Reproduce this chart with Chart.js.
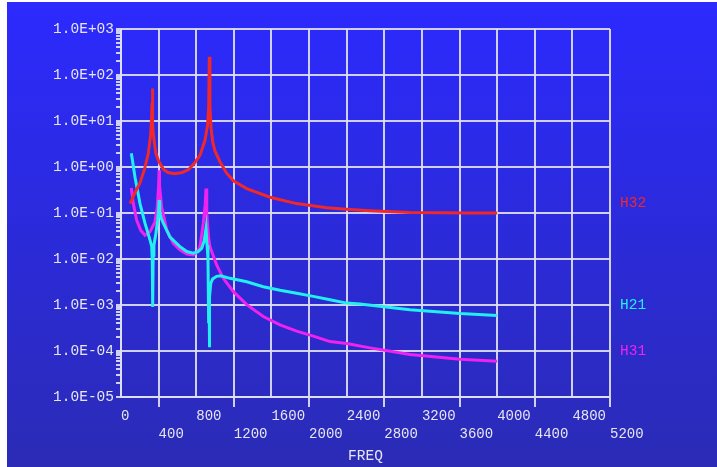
<!DOCTYPE html>
<html><head><meta charset="utf-8">
<script src="https://cdn.jsdelivr.net/npm/chart.js@4.4.0/dist/chart.umd.min.js"></script>
<style>html,body{margin:0;padding:0;background:#fff;overflow:hidden}#wrap{width:717px;height:467px;position:relative}</style>
</head><body><div id="wrap"><canvas id="c" width="717" height="467"></canvas></div>
<script>
// ---- data ----
const seriesNames = ['H32', 'H21', 'H31'];
const seriesColors = ['#f02828', '#22f0f0', '#f022f0'];

const h32Freq = [96, 150, 200, 250, 290, 315, 325, 330, 333, 336, 340, 350, 370, 400, 450, 500, 570, 650, 720, 780, 840, 893, 920, 932, 939, 946, 958, 975, 1000, 1053, 1120, 1195, 1337, 1584, 1868, 2187, 2400, 2648, 3073, 3400, 3700, 4000];
const h32Vals = [0.16, 0.28, 0.44, 0.9, 1.95, 5, 12, 25, 51, 20, 8, 4, 2.0, 1.35, 0.9, 0.76, 0.71, 0.76, 0.88, 1.2, 1.8, 3.8, 8, 20, 250, 20, 7, 3.5, 2.2, 1.3, 0.75, 0.5, 0.34, 0.22, 0.16, 0.13, 0.12, 0.112, 0.102, 0.101, 0.1, 0.1];

const h21Freq = [110, 149, 202, 255, 308, 326, 332, 337, 342, 350, 370, 390, 400, 405, 412, 430, 450, 521, 627, 700, 769, 820, 858, 885, 904, 915, 925, 932, 936, 939, 944, 955, 975, 1017, 1060, 1159, 1337, 1513, 1691, 1868, 2045, 2223, 2400, 2541, 3073, 3605, 4000];
const h21Vals = [2.0, 0.6, 0.16, 0.06, 0.026, 0.019, 0.01, 0.0009, 0.012, 0.02, 0.035, 0.07, 0.12, 0.19, 0.1, 0.075, 0.06, 0.03, 0.0186, 0.0145, 0.0134, 0.0145, 0.017, 0.025, 0.046, 0.02, 0.01, 0.0004, 0.0025, 0.00012, 0.0015, 0.003, 0.0037, 0.0042, 0.0043, 0.0038, 0.0032, 0.0025, 0.0021, 0.0018, 0.00154, 0.0013, 0.0011, 0.00105, 0.00079, 0.00065, 0.00059];

const h31Freq = [110, 131, 166, 210, 255, 308, 361, 386, 400, 405, 410, 432, 486, 556, 627, 700, 769, 820, 840, 875, 895, 904, 912, 930, 946, 1017, 1088, 1195, 1337, 1513, 1691, 1868, 2045, 2223, 2400, 2648, 3073, 3605, 4000];
const h31Vals = [0.35, 0.16, 0.07, 0.042, 0.033, 0.039, 0.064, 0.136, 0.4, 0.85, 0.4, 0.136, 0.043, 0.022, 0.0158, 0.0128, 0.0123, 0.015, 0.0185, 0.06, 0.15, 0.34, 0.1, 0.03, 0.0185, 0.0074, 0.0038, 0.00195, 0.00102, 0.00056, 0.00037, 0.00027, 0.00021, 0.00016, 0.000145, 0.000117, 0.000084, 0.000066, 0.00006];

const xTickValues = [0, 400, 800, 1200, 1600, 2000, 2400, 2800, 3200, 3600, 4000, 4400, 4800, 5200];
const yDecadeLabels = ['1.0E-05', '1.0E-04', '1.0E-03', '1.0E-02', '1.0E-01', '1.0E+00', '1.0E+01', '1.0E+02', '1.0E+03'];
const xTitle = 'FREQ';

// ---- styling ----
const FONT = "'Liberation Mono', 'DejaVu Sans Mono', monospace";
const TEXT = '#e6e6f2';
const GRID = 'rgba(222,222,245,0.92)';

function toPoints(fx, vy) { return fx.map((f, i) => ({ x: f, y: vy[i] })); }
const seriesData = [toPoints(h32Freq, h32Vals), toPoints(h21Freq, h21Vals), toPoints(h31Freq, h31Vals)];

function isDecade(v) { const e = Math.log10(v); return Math.abs(e - Math.round(e)) < 1e-6; }

const bgPlugin = {
  id: 'bg',
  beforeDraw(chart) {
    const c = chart.ctx;
    c.save();
    c.fillStyle = '#ffffff';
    c.fillRect(0, 0, chart.width, chart.height);
    const g = c.createLinearGradient(0, 2, 0, chart.height);
    g.addColorStop(0, '#2c2afe');
    g.addColorStop(1, '#2b2bb6');
    c.fillStyle = g;
    c.fillRect(7, 2, chart.width - 7, chart.height - 2);
    c.restore();
  }
};

const endLabels = {
  id: 'endLabels',
  afterDatasetsDraw(chart) {
    const c = chart.ctx, y = chart.scales.y, area = chart.chartArea;
    c.save();
    c.font = '14.5px ' + FONT;
    c.textAlign = 'left';
    c.textBaseline = 'middle';
    chart.data.datasets.forEach((ds, i) => {
      const last = ds.data[ds.data.length - 1];
      c.fillStyle = ds.borderColor;
      c.fillText(seriesNames[i], area.right + 10, y.getPixelForValue(last.y) - 10);
    });
    c.restore();
  }
};

new Chart(document.getElementById('c'), {
  type: 'line',
  data: {
    datasets: seriesNames.map((n, i) => ({
      label: n,
      data: seriesData[i],
      borderColor: seriesColors[i],
      backgroundColor: seriesColors[i],
      borderWidth: 3,
      pointRadius: 0,
      tension: 0,
      fill: false
    }))
  },
  options: {
    responsive: false,
    devicePixelRatio: 1,
    animation: false,
    layout: { padding: { left: 0, top: 29, right: 107, bottom: 0 } },
    plugins: { legend: { display: false }, tooltip: { enabled: false } },
    scales: {
      x: {
        type: 'linear',
        min: 0, max: 5200,
        afterBuildTicks(s) { s.ticks = xTickValues.map(v => ({ value: v })); },
        afterFit(s) { s.height = 70; },
        grid: {
          color: GRID, lineWidth: 2, drawTicks: true, tickLength: 10,
          tickColor: ctx => (ctx.index % 2 === 1 ? GRID : 'rgba(0,0,0,0)')
        },
        border: { color: GRID, width: 2 },
        ticks: {
          autoSkip: false, maxRotation: 0, minRotation: 0, padding: 0, align: 'start',
          color: TEXT, font: { family: FONT, size: 14, lineHeight: 1.3 },
          callback: (v, i) => (i % 2 === 0 ? [String(v), ''] : ['', String(v)])
        },
        title: { display: true, text: xTitle, color: TEXT, font: { family: FONT, size: 14.5, lineHeight: 1.2 }, padding: { top: 0, bottom: 2 } }
      },
      y: {
        type: 'logarithmic',
        min: 1e-5, max: 1e3,
        afterBuildTicks(s) {
          const t = [];
          for (let e = -5; e < 3; e++) for (let k = 1; k <= 9; k++) t.push({ value: Number((k * Math.pow(10, e)).toPrecision(3)) });
          t.push({ value: 1e3 });
          s.ticks = t;
        },
        afterFit(s) { s.width = 121; },
        grid: {
          color: ctx => (ctx.tick && isDecade(ctx.tick.value) ? GRID : 'rgba(0,0,0,0)'),
          tickColor: GRID, lineWidth: 2, tickLength: 5
        },
        border: { color: GRID, width: 2 },
        ticks: {
          autoSkip: false, padding: 2, color: TEXT,
          font: { family: FONT, size: 14.5 },
          callback: v => (isDecade(v) ? yDecadeLabels[Math.round(Math.log10(v)) + 5] : '')
        }
      }
    }
  },
  plugins: [bgPlugin, endLabels]
});
</script>
</body></html>
